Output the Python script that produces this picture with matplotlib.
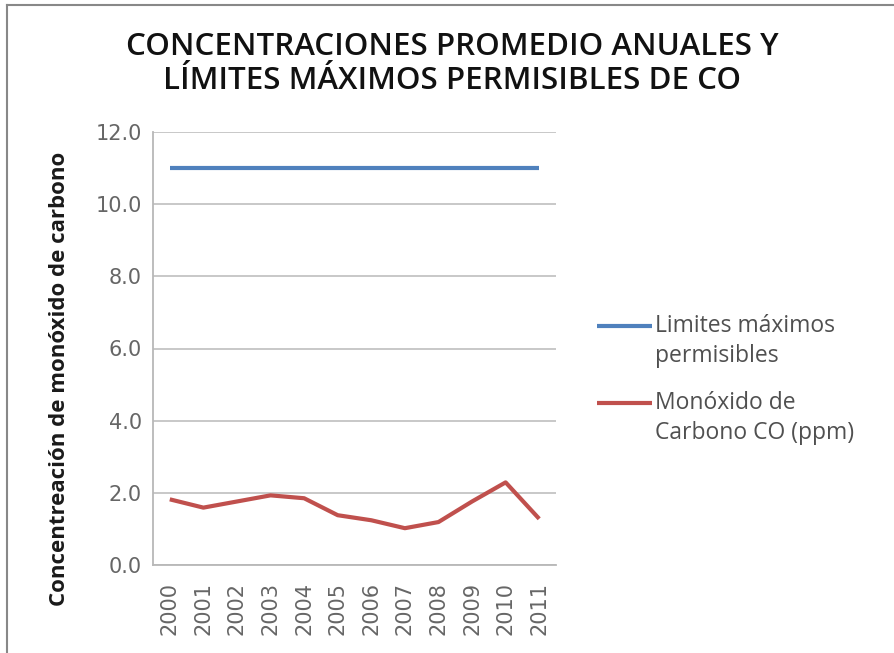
import matplotlib.pyplot as plt
from matplotlib.lines import Line2D
import numpy as np

years = ['2000', '2001', '2002', '2003', '2004', '2005',
         '2006', '2007', '2008', '2009', '2010', '2011']
limite = [11.0] * 12
co_ppm = [1.82, 1.59, 1.76, 1.93, 1.85, 1.38, 1.24, 1.02, 1.19, 1.76, 2.29, 1.28]
y_ticks = [0, 2, 4, 6, 8, 10, 12]
series_names = ['Limites máximos\npermisibles', 'Monóxido de\nCarbono CO (ppm)']
colors = ['#4F81BD', '#C0504D']

plt.rcParams['font.family'] = ['Open Sans', 'DejaVu Sans']

W, H = 894, 653
fig = plt.figure(figsize=(W / 100, H / 100), dpi=100)
ax = fig.add_axes([153 / W, 1 - 565 / H, 403 / W, 433 / H])

x = np.arange(len(years))
for vals, c in zip([limite, co_ppm], colors):
    ax.plot(x, vals, color=c, lw=3, solid_capstyle='butt')

ax.set_xlim(-0.5, len(years) - 0.5)
ax.set_ylim(0, 12)
ax.set_yticks(y_ticks)
ax.set_yticklabels([f'{v:.1f}' for v in y_ticks])
ax.set_xticks(x)
ax.set_xticklabels(years, rotation=90)
ax.tick_params(axis='both', length=0, labelsize=15, colors='#666666')
ax.tick_params(axis='x', pad=12)
ax.tick_params(axis='y', pad=8)
for lab in ax.get_xticklabels() + ax.get_yticklabels():
    lab.set_family('DejaVu Sans')
ax.yaxis.grid(True, color='#c4c4c4', lw=1.3)
ax.set_axisbelow(True)
for s in ['top', 'right']:
    ax.spines[s].set_visible(False)
for s in ['left', 'bottom']:
    ax.spines[s].set_color('#b8b8b8')
    ax.spines[s].set_linewidth(1.3)

fig.text(60 / W, 1 - 379 / H, 'Concentreación de monóxido de carbono',
         rotation=90, ha='center', va='center', fontsize=16,
         fontweight='bold', color='#1a1a1a')

fig.text(452 / W, 1 - 64 / H,
         'CONCENTRACIONES PROMEDIO ANUALES Y\nLÍMITES MÁXIMOS PERMISIBLES DE CO',
         ha='center', va='center', fontsize=22.5, fontweight='semibold',
         color='#111111', linespacing=1.15)

# legend, handle aligned with the first text line as in the original
for i, (name, c) in enumerate(zip(series_names, colors)):
    y0 = 326 + i * 77
    fig.add_artist(Line2D([597 / W, 652 / W], [1 - y0 / H, 1 - y0 / H],
                          color=c, lw=3, solid_capstyle='butt',
                          transform=fig.transFigure))
    fig.text(655 / W, 1 - (y0 + 15) / H, name, ha='left', va='center',
             fontsize=16.5, color='#505050', linespacing=1.28)

# chart frame (only left and top edges are visible in the crop)
fig.add_artist(Line2D([0.008, 0.008], [0, 0.993], color='#888888', lw=1.5,
                      transform=fig.transFigure))
fig.add_artist(Line2D([0.008, 1.0], [0.993, 0.993], color='#888888', lw=1.5,
                      transform=fig.transFigure))

fig.savefig('out.png', dpi=100, facecolor='white')
